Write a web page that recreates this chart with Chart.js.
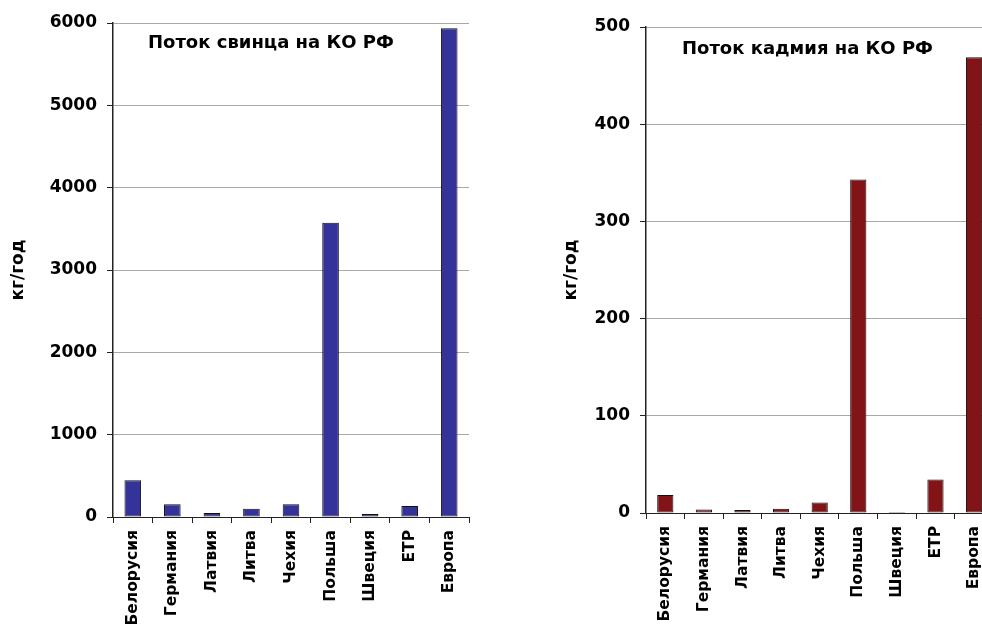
<!DOCTYPE html>
<html><head><meta charset="utf-8">
<script src="https://cdn.jsdelivr.net/npm/chart.js@4/dist/chart.umd.min.js"></script>
<style>
html,body{margin:0;padding:0;background:#fff;overflow:hidden;width:982px;height:626px;position:relative;}
#c1{position:absolute;left:0;top:0;}
#c2{position:absolute;left:560px;top:0;}
</style></head><body>
<canvas id="c1" width="490" height="626"></canvas>
<canvas id="c2" width="440" height="626"></canvas>
<script>
const categories = ['Белорусия','Германия','Латвия','Литва','Чехия','Польша','Швеция','ЕТР','Европа'];
const leadValues = [445, 155, 50, 100, 155, 3575, 36, 134, 5935];
const cadmiumValues = [18.5, 3.5, 3, 4.4, 10.7, 343, 1, 34.4, 469];
const leadTicks = [0, 1000, 2000, 3000, 4000, 5000, 6000];
const cadmiumTicks = [0, 100, 200, 300, 400, 500];
const leadTitle = 'Поток свинца на КО РФ';
const cadmiumTitle = 'Поток кадмия на КО РФ';
const yAxisTitle = 'кг/год';

const FONT = '"DejaVu Sans", "Liberation Sans", Arial, sans-serif';

const innerTitle = {
  id: 'innerTitle',
  afterDraw(chart, args, opts) {
    const ctx = chart.ctx, a = chart.chartArea;
    ctx.save();
    ctx.font = 'bold ' + opts.size + 'px ' + FONT;
    ctx.fillStyle = '#000';
    ctx.textBaseline = 'middle';
    ctx.textAlign = 'left';
    ctx.fillText(opts.text, a.left + opts.dx, a.top + opts.dy);
    ctx.restore();
  }
};

function makeChart(id, values, ticks, color, title, cfg) {
  const max = ticks[ticks.length - 1];
  return new Chart(document.getElementById(id), {
    type: 'bar',
    data: { labels: categories, datasets: [{ data: values, backgroundColor: color, borderColor: '#111', borderWidth: 1, borderSkipped: false, categoryPercentage: 1, barPercentage: 0.42 }] },
    plugins: [innerTitle],
    options: {
      responsive: false, animation: false, devicePixelRatio: 1,
      layout: { padding: { top: cfg.top, right: cfg.right, left: 0, bottom: 0 } },
      plugins: { legend: { display: false }, tooltip: { enabled: false },
        innerTitle: { text: title, dx: cfg.tdx, dy: cfg.tdy, size: 18 } },
      scales: {
        x: {
          grid: { display: true, offset: true, drawOnChartArea: true, tickLength: 6, tickColor: '#222',
            color: c => (c.index === categories.length ? '#999' : 'rgba(0,0,0,0)') },
          border: { display: true, color: '#222', width: 1 },
          ticks: { color: '#000', font: { family: FONT, size: 15.5, weight: 'bold' }, minRotation: 90, maxRotation: 90, padding: 7, autoSkip: false },
          afterFit: s => { s.height = cfg.xh; }
        },
        y: {
          min: 0, max: max,
          afterBuildTicks: s => { s.ticks = ticks.map(v => ({ value: v })); },
          grid: { color: '#a8a8a8', tickLength: 6, tickColor: '#222' },
          border: { display: true, color: '#222', width: 1.5 },
          ticks: { color: '#000', font: { family: FONT, size: 17, weight: 'bold' }, padding: 10, callback: v => String(v) },
          title: { display: true, text: yAxisTitle, color: '#000', font: { family: FONT, size: 17, weight: 'bold' }, padding: { top: cfg.tpad, bottom: 0 } },
          afterFit: s => { s.width = cfg.yw; }
        }
      }
    }
  });
}

makeChart('c1', leadValues, leadTicks, '#333399', leadTitle, { top: 23, right: 21, xh: 109, yw: 113, tdx: 35, tdy: 20, tpad: 8 });
makeChart('c2', cadmiumValues, cadmiumTicks, '#821418', cadmiumTitle, { top: 27, right: 6, xh: 113, yw: 86, tdx: 36, tdy: 22, tpad: 1 });
</script>
</body></html>
